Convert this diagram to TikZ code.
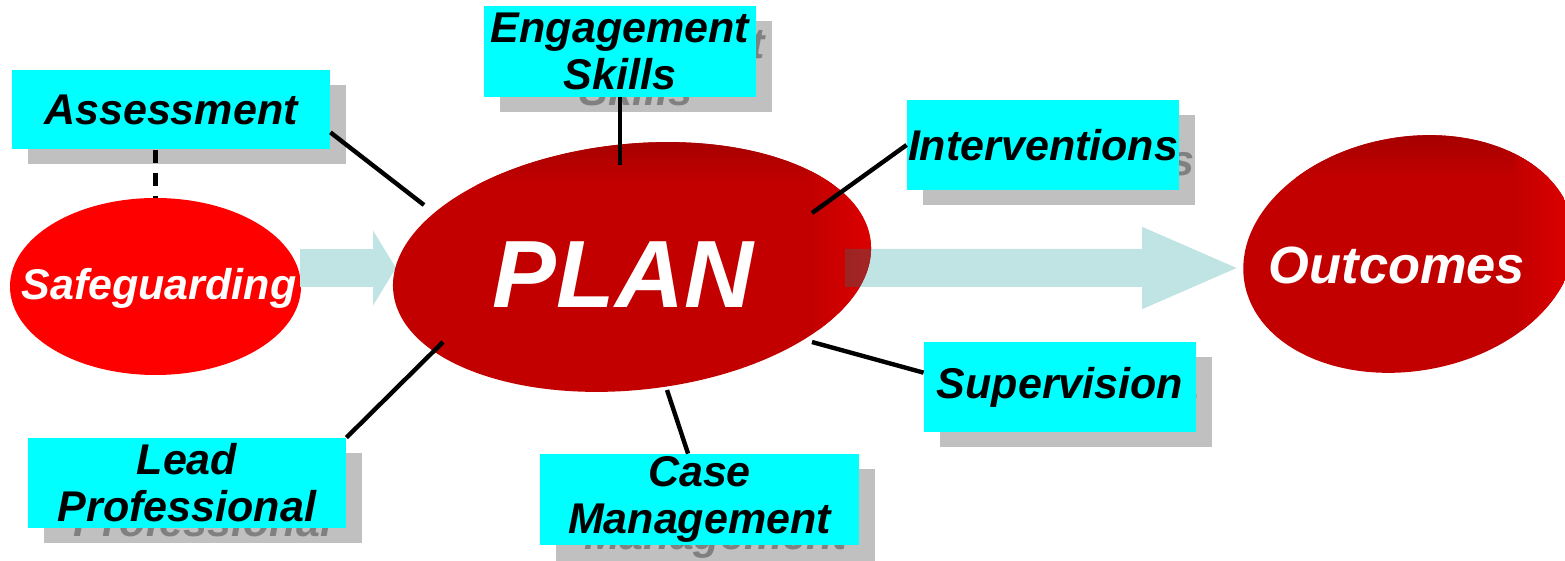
\documentclass[tikz,border=0pt]{standalone}
\usepackage{fontspec}
\setmainfont{Liberation Sans}
\usetikzlibrary{arrows.meta}
\usetikzlibrary{positioning}
\usetikzlibrary{shapes}
\definecolor{boxcyan}{RGB}{0,255,255}
\definecolor{shadegray}{RGB}{192,192,192}
\definecolor{shadetext}{RGB}{128,128,128}
\definecolor{safered}{RGB}{255,0,0}
\definecolor{planred}{RGB}{194,0,0}
\definecolor{planrim}{RGB}{165,0,0}
\definecolor{planglow}{RGB}{222,0,0}
\definecolor{flowteal}{RGB}{192,228,228}
\definecolor{flowdark}{RGB}{3,147,147}

\tikzset{
	topic/.style={fill=boxcyan, text=black, inner sep=0pt, align=center,
		font=\bfseries\itshape\fontsize{21.5}{23.5}\selectfont},
	topicshade/.style={topic, fill=shadegray, text=shadetext},
	blobtext/.style={text=white, inner sep=0pt, font=\bfseries\itshape\fontsize{21.5}{23.5}\selectfont},
	link/.style={line width=2.2pt, black},
	flow/.style={line width=19pt, flowteal},
}

\begin{document}
\begin{tikzpicture}[x=0.5pt, y=-0.5pt]
	\useasboundingbox (0,0) rectangle (1565,561);
	\clip (0,0) rectangle (1565,561);

	% safeguarding and the first arrow
	\fill[safered] (155.5,286.5) ellipse [x radius=145.5, y radius=88.5];
	\node[blobtext] (safeg) at (159,288) {Safeguarding};
	\coordinate (safeT) at (155.5,198);
	\coordinate (safeR) at (300,268);
	\coordinate (planL) at (396,268);
	\draw[flow, -{Triangle[width=37pt, length=11.5pt]}] (safeR) -- (planL);

	% the plan blob
	\begin{scope}
		\clip[rotate around={6:(632,267)}] (632,267) ellipse [x radius=240, y radius=123];
		\fill[planred] (380,130) rectangle (880,400);
		\shade[top color=planrim, bottom color=planred] (380,138) rectangle (880,185);
		\shade[left color=planred, right color=planglow] (810,150) rectangle (875,330);
	\end{scope}
	\node[blobtext, font=\bfseries\itshape\fontsize{47.8}{50}\selectfont] (plan) at (623,275) {PLAN};

	% outcomes blob
	\begin{scope}
		\clip[rotate around={10:(1409,254)}] (1409,254) ellipse [x radius=167, y radius=117];
		\fill[planred] (1230,130) rectangle (1580,380);
		\shade[top color=planrim, bottom color=planred] (1230,134) rectangle (1580,178);
		\shade[left color=planred, right color=planglow] (1515,150) rectangle (1570,330);
	\end{scope}
	\node[blobtext, font=\bfseries\itshape\fontsize{26.2}{30}\selectfont] (outc) at (1397,265) {Outcomes};

	% second arrow, seen through
	\coordinate (planR) at (845,268);
	\coordinate (outcL) at (1241,268);
	\begin{scope}[transparency group, opacity=0.25]
		\draw[flow, flowdark, -{Triangle[width=37pt, length=49.5pt]}] (planR) -- (outcL);
	\end{scope}

	% boxes round the plan
	\node[topicshade, minimum width=159pt, minimum height=39.5pt] at (187,125) {Assessment};
	\node[topic, minimum width=159pt, minimum height=39.5pt] (assess) at (171,110) {Assessment};

	\node[topicshade, minimum width=136pt, minimum height=45.5pt] at (636,67) {Engagement\\Skills};
	\node[topic, minimum width=136pt, minimum height=45.5pt] (engage) at (620,51.5) {Engagement\\Skills};

	\node[topicshade, minimum width=136pt, minimum height=45pt] at (1059,160) {Interventions};
	\node[topic, minimum width=136pt, minimum height=45pt] (interv) at (1043,145) {Interventions};

	\node[topicshade, minimum width=136pt, minimum height=45pt] at (1076,402) {Supervision};
	\node[topic, minimum width=136pt, minimum height=45pt] (superv) at (1060,387) {Supervision};

	\node[topicshade, minimum width=159.5pt, minimum height=45.5pt] at (715.5,515) {Case\\Management};
	\node[topic, minimum width=159.5pt, minimum height=45.5pt] (casem) at (699.5,499.5) {Case\\Management};

	\node[topicshade, minimum width=159pt, minimum height=45pt] at (203,498) {Lead\\Professional};
	\node[topic, minimum width=159pt, minimum height=45pt] (lead) at (187,483) {Lead\\Professional};

	% links into the plan
	\coordinate (planA) at (424,205);
	\coordinate (planB) at (620,165);
	\coordinate (planC) at (812,213);
	\coordinate (planD) at (812,342);
	\coordinate (planE) at (667,390);
	\coordinate (planF) at (443,342);
	\draw[link, dash pattern=on 6.5pt off 5pt] (assess.south -| safeT) -- (safeT);
	\draw[link] (assess.-8) -- (planA);
	\draw[link] (engage.south) -- (planB);
	\draw[link] (interv.west) -- (planC);
	\draw[link] (superv.174) -- (planD);
	\draw[link] (casem.104) -- (planE);
	\draw[link] (lead.north east) -- (planF);
\end{tikzpicture}
\end{document}
